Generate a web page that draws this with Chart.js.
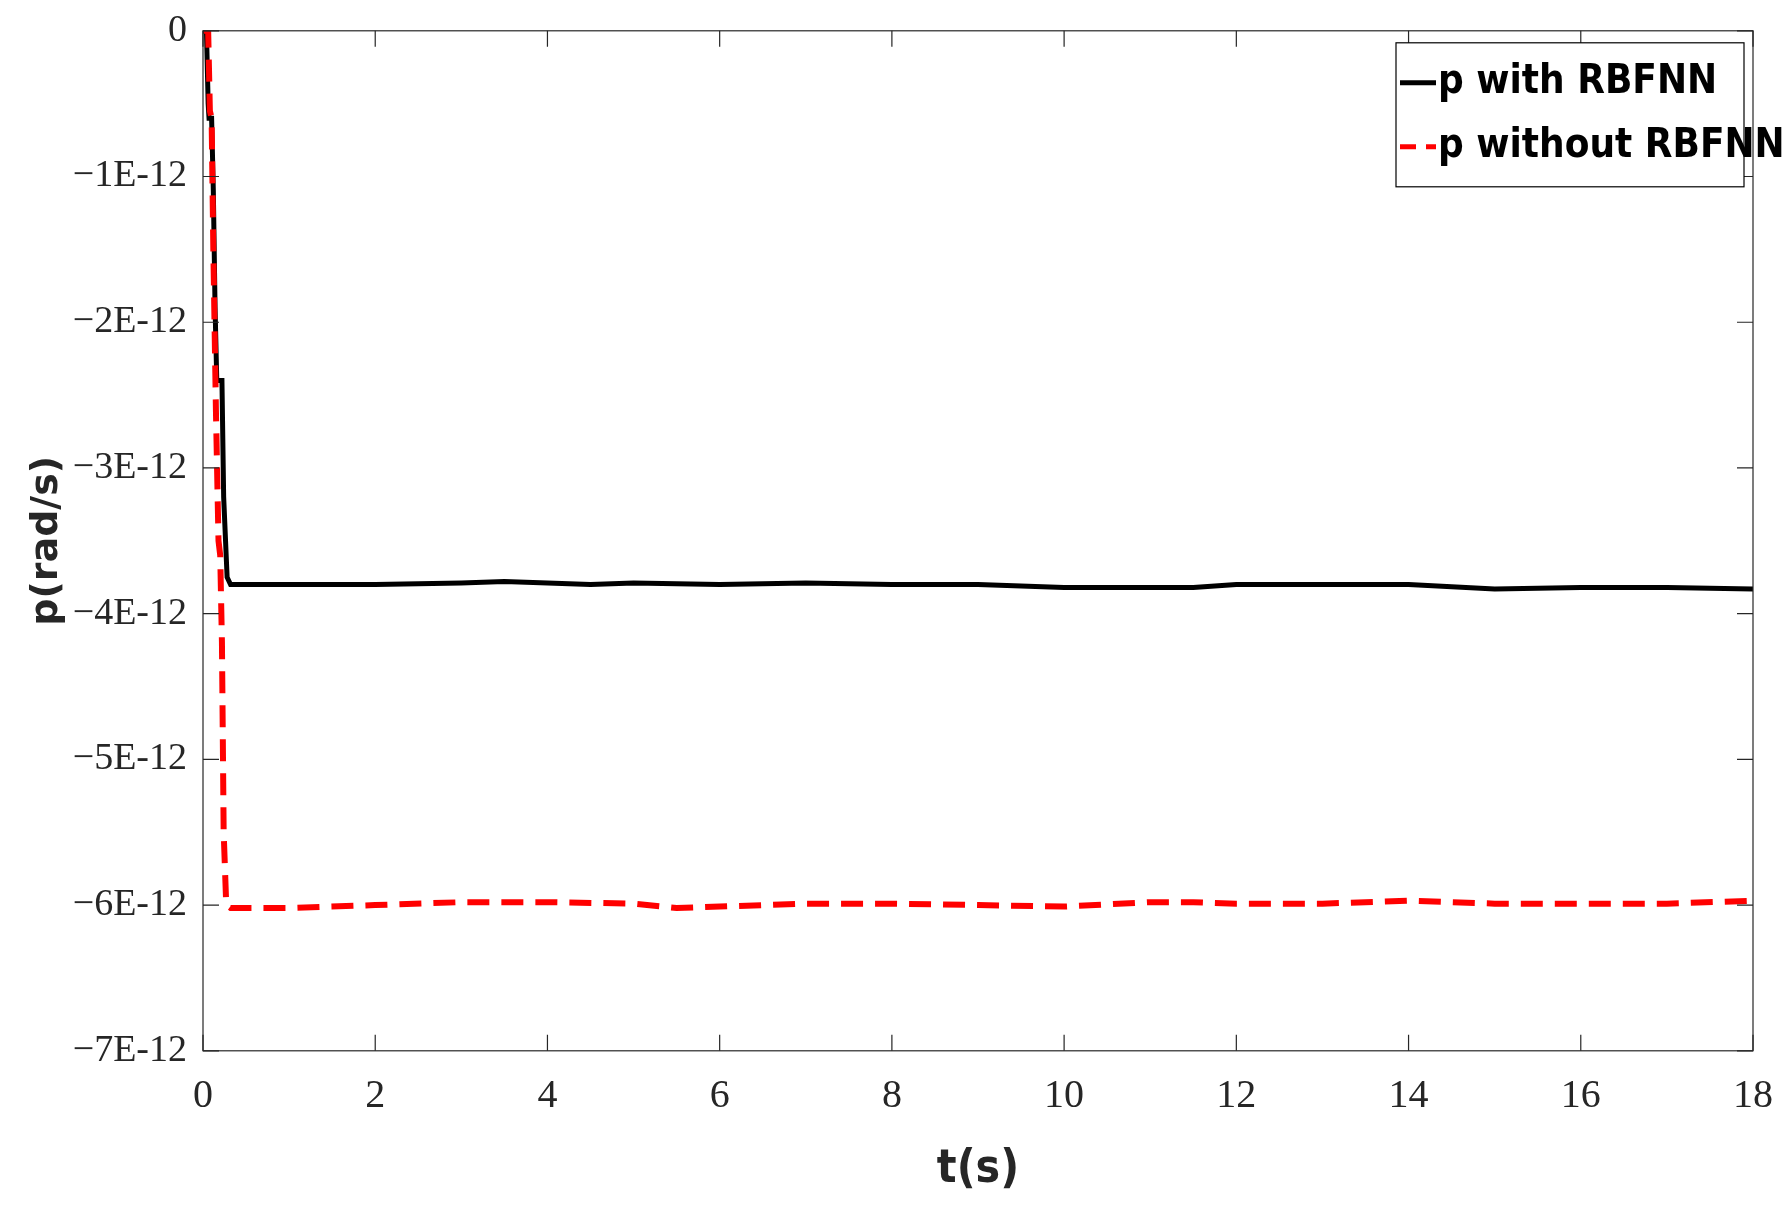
<!DOCTYPE html>
<html>
<head>
<meta charset="utf-8">
<script src="https://cdn.jsdelivr.net/npm/chart.js@4.4.0/dist/chart.umd.min.js"></script>
<style>
  html, body { margin: 0; padding: 0; background: #fff; }
  #wrap { width: 1790px; height: 1212px; position: relative; }
</style>
</head>
<body>
<div id="wrap"><canvas id="chart" width="1790" height="1212"></canvas></div>
<script>
// values in units of 1E-12 rad/s
const tWith = [0, 0.04, 0.06, 0.07, 0.1, 0.12, 0.14, 0.16, 0.2, 0.22, 0.24, 0.28, 0.32, 1, 2, 3, 3.5, 4, 4.5, 5, 6, 7, 8, 9, 10, 11, 11.5, 12, 13, 14, 15, 16, 17, 18];
const pWith = [0, 0, -0.5, -0.6, -0.6, -1.1, -1.9, -2.4, -2.4, -2.4, -3.2, -3.75, -3.8, -3.8, -3.8, -3.79, -3.78, -3.79, -3.8, -3.79, -3.8, -3.79, -3.8, -3.8, -3.82, -3.82, -3.82, -3.8, -3.8, -3.8, -3.83, -3.82, -3.82, -3.83];
const tWithout = [0, 0.06, 0.08, 0.1, 0.12, 0.15, 0.18, 0.2, 0.22, 0.24, 0.27, 0.32, 1, 2, 3, 4, 5, 5.5, 6, 7, 8, 9, 10, 11, 11.5, 12, 13, 14, 15, 16, 17, 18];
const pWithout = [0, 0, -0.55, -0.6, -1.5, -2.6, -3.5, -3.6, -4.2, -5.5, -6, -6.02, -6.02, -6, -5.98, -5.98, -5.99, -6.02, -6.01, -5.99, -5.99, -6, -6.01, -5.98, -5.98, -5.99, -5.99, -5.97, -5.99, -5.99, -5.99, -5.97];
const xTicks = [0, 2, 4, 6, 8, 10, 12, 14, 16, 18];
const yTicks = [0, -1, -2, -3, -4, -5, -6, -7];
const seriesNames = ['p with RBFNN', 'p without RBFNN'];

const toXY = (xs, ys) => xs.map((x, i) => ({ x: x, y: ys[i] }));
const yLabel = v => v === 0 ? '0' : '\u2212' + Math.abs(v) + 'E-12';

const frame = {
  id: 'frame',
  afterDraw(chart) {
    const { ctx, chartArea: a, scales } = chart;
    ctx.save();
    ctx.strokeStyle = '#262626';
    ctx.lineWidth = 1.2;
    ctx.strokeRect(a.left, a.top, a.right - a.left, a.bottom - a.top);
    const len = 16;
    ctx.beginPath();
    xTicks.forEach(v => {
      const px = scales.x.getPixelForValue(v);
      ctx.moveTo(px, a.bottom); ctx.lineTo(px, a.bottom - len);
      ctx.moveTo(px, a.top); ctx.lineTo(px, a.top + len);
    });
    yTicks.forEach(v => {
      const py = scales.y.getPixelForValue(v);
      ctx.moveTo(a.left, py); ctx.lineTo(a.left + len, py);
      ctx.moveTo(a.right, py); ctx.lineTo(a.right - len, py);
    });
    ctx.stroke();

    // legend box
    const bx = a.right - 357, by = a.top + 12, bw = 348, bh = 144;
    ctx.fillStyle = '#fff';
    ctx.fillRect(bx, by, bw, bh);
    ctx.strokeStyle = '#000';
    ctx.lineWidth = 1.2;
    ctx.strokeRect(bx, by, bw, bh);
    ctx.font = 'bold 40px "Liberation Sans Narrow", "DejaVu Sans Condensed", sans-serif';
    ctx.textBaseline = 'middle';
    ctx.fillStyle = '#000';
    const rows = [by + 40, by + 104];
    ctx.lineWidth = 5;
    ctx.strokeStyle = '#000';
    ctx.beginPath(); ctx.moveTo(bx + 4, rows[0]); ctx.lineTo(bx + 40, rows[0]); ctx.stroke();
    ctx.strokeStyle = '#ff0000';
    ctx.setLineDash([16, 10]);
    ctx.beginPath(); ctx.moveTo(bx + 4, rows[1]); ctx.lineTo(bx + 40, rows[1]); ctx.stroke();
    ctx.setLineDash([]);
    ctx.fillText(seriesNames[0], bx + 42, rows[0]);
    ctx.fillText(seriesNames[1], bx + 42, rows[1]);
    ctx.restore();
  }
};

new Chart(document.getElementById('chart'), {
  type: 'scatter',
  data: {
    datasets: [
      {
        label: seriesNames[1],
        data: toXY(tWithout, pWithout),
        showLine: true,
        borderColor: '#ff0000',
        borderWidth: 6,
        borderDash: [22, 12],
        pointRadius: 0,
        tension: 0
      },
      {
        label: seriesNames[0],
        data: toXY(tWith, pWith),
        showLine: true,
        borderColor: '#000000',
        borderWidth: 5,
        pointRadius: 0,
        tension: 0
      }
    ]
  },
  options: {
    responsive: false,
    animation: false,
    devicePixelRatio: 1,
    layout: { padding: { left: 20, right: 37, top: 30, bottom: 10 } },
    plugins: { legend: { display: false }, tooltip: { enabled: false } },
    scales: {
      x: {
        type: 'linear', min: 0, max: 18,
        afterBuildTicks: s => { s.ticks = xTicks.map(v => ({ value: v })); },
        grid: { display: false },
        border: { display: false },
        ticks: { color: '#262626', padding: 14, font: { family: '"Liberation Serif", serif', size: 40 } },
        title: { display: true, text: 't(s)', color: '#262626', padding: { top: 8 },
          font: { family: '"Liberation Sans Narrow", "DejaVu Sans Condensed", sans-serif', size: 46, weight: 'bold' } }
      },
      y: {
        type: 'linear', min: -7, max: 0,
        afterBuildTicks: s => { s.ticks = yTicks.map(v => ({ value: v })); },
        afterFit: s => { s.width = 183; },
        grid: { display: false },
        border: { display: false },
        ticks: { color: '#262626', padding: 8, callback: v => yLabel(v),
          font: { family: '"Liberation Serif", serif', size: 38 } },
        title: { display: true, text: 'p(rad/s)', color: '#262626', padding: { bottom: 0 },
          font: { family: '"DejaVu Sans", sans-serif', size: 38, weight: 'bold' } }
      }
    }
  },
  plugins: [frame]
});
</script>
</body>
</html>
